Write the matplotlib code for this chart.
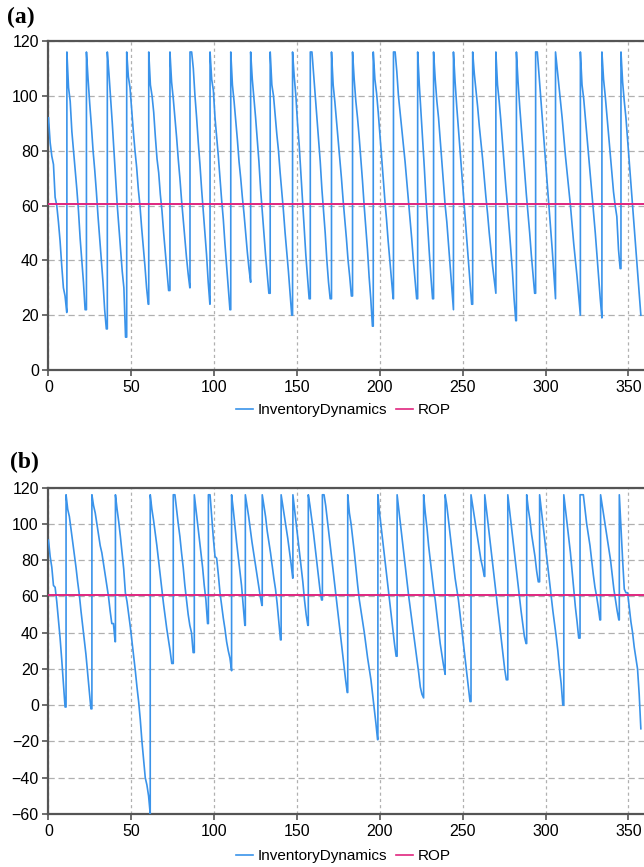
import matplotlib
matplotlib.use('Agg')
import matplotlib.pyplot as plt
from matplotlib.lines import Line2D

# reorder point level (same in both panels)
rop = 60.5

# panel (a): day of each replenishment and the stock level read day by day after it
arrive_a = [0, 11.1, 22.9, 35.5, 47.2, 60.5, 73.3, 85.4, 97.5, 110.0, 122.0, 133.8, 147.3, 158.0,
            170.8, 183.5, 196.0, 208.2, 222.8, 232.4, 244.4, 256.0, 270.0, 282.4, 294.0, 306.0,
            321.0, 334.0, 345.5]
levels_a = [
    [92, 83, 78, 75, 63, 60, 54, 47, 38, 30, 27, 21],
    [116, 103, 98, 87, 80, 73, 66, 58, 48, 40, 32, 22],
    [116, 106, 97, 89, 80, 73, 65, 56, 48, 40, 32, 22, 15],
    [116, 108, 99, 90, 80, 70, 60, 52, 44, 36, 30, 12],
    [116, 107, 103, 95, 87, 80, 74, 66, 60, 52, 45, 38, 30, 24],
    [116, 104, 100, 94, 85, 77, 72, 64, 58, 50, 43, 36, 29],
    [116, 105, 99, 92, 85, 77, 70, 62, 55, 48, 41, 35, 30],
    [116, 116, 110, 100, 92, 83, 75, 66, 58, 50, 42, 32, 24],
    [116, 106, 102, 92, 85, 78, 70, 62, 55, 46, 38, 30, 22],
    [116, 104, 98, 91, 84, 76, 70, 63, 57, 50, 43, 37, 32],
    [116, 106, 99, 92, 84, 76, 66, 58, 50, 42, 35, 28],
    [116, 104, 100, 93, 86, 80, 72, 65, 58, 50, 43, 36, 28, 20],
    [116, 107, 100, 90, 82, 72, 62, 52, 42, 34, 26],
    [116, 116, 108, 100, 92, 84, 76, 66, 58, 50, 40, 32, 26],
    [116, 104, 98, 91, 84, 77, 70, 62, 55, 48, 40, 34, 27],
    [116, 106, 98, 92, 85, 77, 69, 60, 52, 44, 34, 26, 16],
    [116, 106, 101, 94, 86, 78, 70, 62, 55, 47, 40, 33, 26],
    [116, 116, 109, 100, 94, 88, 82, 76, 69, 62, 55, 48, 40, 33, 26],
    [116, 104, 94, 84, 74, 63, 53, 43, 34, 26],
    [116, 106, 98, 92, 84, 76, 68, 60, 54, 46, 38, 30, 22],
    [116, 105, 96, 88, 80, 72, 64, 56, 48, 40, 32, 24],
    [116, 108, 102, 96, 89, 83, 77, 70, 63, 57, 50, 44, 38, 33, 28],
    [116, 104, 98, 91, 83, 75, 67, 60, 52, 44, 36, 26, 18],
    [116, 105, 96, 88, 80, 72, 64, 57, 50, 42, 35, 28],
    [116, 116, 108, 100, 92, 84, 76, 68, 60, 52, 44, 35, 26],
    [116, 110, 104, 98, 92, 85, 78, 72, 66, 60, 53, 46, 40, 34, 27, 20],
    [116, 104, 99, 92, 85, 78, 71, 64, 57, 50, 42, 34, 26, 19],
    [116, 106, 100, 93, 86, 79, 72, 65, 60, 56, 44, 37],
    [116, 105, 98, 92, 84, 76, 68, 60, 52, 44, 36, 28, 20],
]

# panel (b)
arrive_b = [0, 10.6, 26.2, 40.4, 61.4, 75.3, 88.0, 96.5, 110.5, 118.8, 129.0, 140.4, 147.5, 156.8,
            165.3, 180.6, 198.8, 210.4, 226.4, 239.4, 255.0, 263.3, 277.2, 288.6, 296.4, 311.0,
            320.8, 333.2, 344.5]
levels_b = [
    [91, 82, 76, 66, 65, 57, 47, 37, 25, 12, -1],
    [116, 108, 104, 97, 90, 83, 76, 68, 61, 52, 44, 36, 28, 18, 8, -2],
    [116, 110, 106, 100, 94, 88, 84, 78, 72, 66, 60, 52, 45, 45, 35],
    [116, 108, 101, 93, 84, 75, 62, 57, 50, 43, 35, 27, 19, 10, 2, -8, -20, -30, -40, -44, -50, -60],
    [116, 108, 102, 95, 88, 80, 72, 64, 56, 49, 42, 36, 30, 23],
    [116, 116, 108, 100, 93, 84, 76, 66, 58, 50, 44, 40, 29],
    [116, 108, 100, 92, 84, 76, 66, 58, 45],
    [116, 116, 104, 92, 82, 81, 72, 62, 55, 48, 42, 35, 30, 26, 19],
    [116, 108, 99, 90, 82, 74, 66, 55, 44],
    [116, 110, 104, 97, 90, 84, 78, 72, 66, 60, 55],
    [116, 110, 104, 96, 90, 84, 77, 70, 64, 56, 46, 36],
    [116, 110, 104, 98, 92, 85, 78, 70],
    [116, 108, 100, 92, 84, 76, 68, 58, 50, 44],
    [116, 110, 103, 96, 88, 80, 72, 64, 58],
    [116, 116, 110, 102, 94, 86, 78, 70, 62, 54, 46, 38, 30, 22, 14, 7],
    [116, 106, 100, 92, 84, 75, 66, 58, 52, 46, 40, 33, 26, 20, 14, 6, -2, -10, -19],
    [116, 106, 98, 90, 82, 74, 66, 58, 50, 42, 34, 27],
    [116, 108, 100, 92, 84, 76, 68, 60, 53, 46, 39, 32, 25, 18, 10, 6, 4],
    [116, 106, 98, 88, 80, 72, 64, 58, 50, 42, 34, 28, 22, 17],
    [116, 110, 102, 94, 86, 78, 70, 64, 58, 50, 42, 34, 26, 18, 10, 2],
    [116, 110, 104, 98, 92, 86, 80, 76, 71],
    [116, 108, 100, 92, 84, 76, 68, 60, 52, 44, 36, 28, 20, 14],
    [116, 108, 100, 92, 84, 76, 68, 60, 52, 45, 38, 34],
    [116, 108, 102, 94, 88, 82, 74, 68],
    [116, 108, 100, 92, 84, 76, 68, 60, 52, 45, 38, 30, 20, 12, 0],
    [116, 108, 100, 92, 84, 74, 64, 54, 46, 37],
    [116, 116, 116, 108, 100, 94, 88, 80, 72, 65, 60, 54, 47],
    [116, 110, 104, 98, 92, 86, 80, 72, 64, 58, 52, 47],
    [116, 98, 80, 64, 62, 62, 54, 46, 40, 32, 26, 20, 6, -13],
]

yticks_a = [0, 20, 40, 60, 80, 100, 120]
yticks_b = [-60, -40, -20, 0, 20, 40, 60, 80, 100, 120]
xticks = [0, 50, 100, 150, 200, 250, 300, 350]

blue = '#3a93ea'
pink = '#e0267f'
plt.rcParams['font.family'] = ['Liberation Sans', 'DejaVu Sans']


def build(arrive, levels):
    # daily samples, with the jump to full stock on each arrival day
    xs, ys = [], []
    for i in range(len(arrive)):
        if i > 0:
            xs.append(arrive[i])
            ys.append(levels[i - 1][-1])
        for k, v in enumerate(levels[i]):
            xs.append(arrive[i] + k)
            ys.append(v)
    return xs, ys


fig = plt.figure(figsize=(6.44, 8.67), dpi=100)
ax_a = fig.add_axes([0.0753, 0.5732, 0.9247, 0.3795])
ax_b = fig.add_axes([0.0753, 0.0611, 0.9247, 0.3766])

for ax, arrive, levels, yt in [(ax_a, arrive_a, levels_a, yticks_a),
                               (ax_b, arrive_b, levels_b, yticks_b)]:
    xs, ys = build(arrive, levels)
    ax.plot(xs, ys, color=blue, lw=1.2, zorder=3)
    ax.axhline(rop, color=pink, lw=1.4, zorder=4)
    ax.set_xlim(0, 359.4)
    ax.set_ylim(yt[0], yt[-1])
    ax.set_xticks(xticks)
    ax.set_yticks(yt)
    ax.yaxis.grid(True, color='#b0b0b0', lw=0.9, linestyle=(0, (5, 3)))
    ax.xaxis.grid(True, color='#b0b0b0', lw=0.9, linestyle=(0, (2.5, 2.5)))
    ax.set_axisbelow(True)
    for s in ['top', 'left', 'bottom']:
        ax.spines[s].set_color('#555555')
        ax.spines[s].set_linewidth(1.6)
    ax.spines['right'].set_visible(False)
    ax.tick_params(direction='out', length=4, width=1.2, color='#555555', labelsize=11.5, pad=3)

handles = [Line2D([], [], color=blue, lw=1.2), Line2D([], [], color=pink, lw=1.2)]
labels = ['InventoryDynamics', 'ROP']
for yy in [0.527, 0.0125]:
    fig.legend(handles, labels, loc='center', bbox_to_anchor=(0.533, yy), ncol=2, frameon=False,
               fontsize=11, handlelength=1.1, handletextpad=0.3, columnspacing=0.6)

fig.text(0.011, 1 - 17 / 867, '(a)', fontsize=17, fontweight='bold', va='center',
         family='Liberation Serif')
fig.text(0.015, 1 - 462 / 867, '(b)', fontsize=17, fontweight='bold', va='center',
         family='Liberation Serif')

plt.savefig('out.png', dpi=100)
